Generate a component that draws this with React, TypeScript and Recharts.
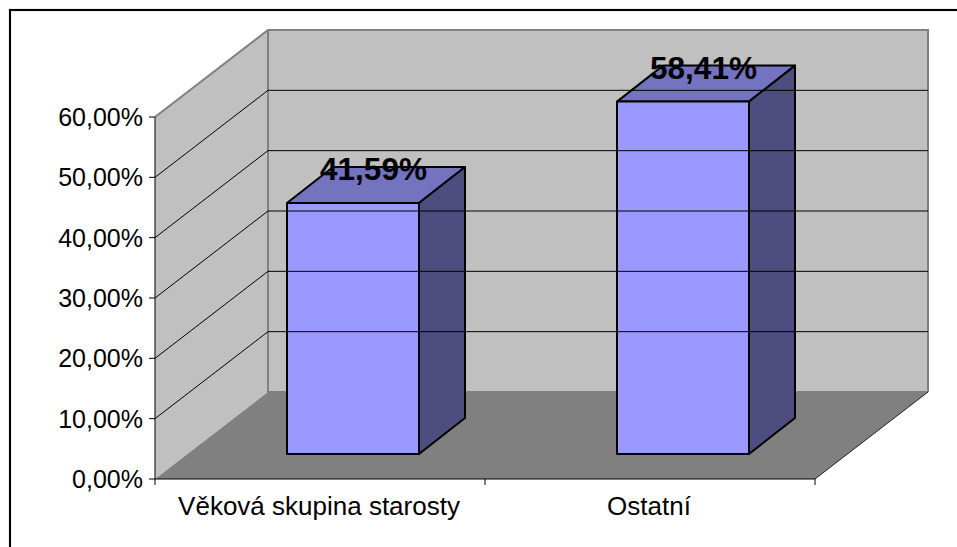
import React from "react";
import {
  BarChart,
  Bar,
  XAxis,
  YAxis,
  LabelList,
  ReferenceArea,
  ReferenceLine,
} from "recharts";

const CATEGORIES = ["Věková skupina starosty", "Ostatní"];
const VALUES = [41.59, 58.41];
const Y_TICKS = [0, 10, 20, 30, 40, 50, 60];

const FONT = "'Liberation Sans', Arial, sans-serif";

// Excel-style fake 3D: how far back the walls go, where a bar sits in that depth, how deep it is
const WALL_DX = 113;
const WALL_DY = -87;
const BAR_DX = 33;
const BAR_DY = -25;
const BAR_DEPTH_X = 46;
const BAR_DEPTH_Y = -36;

const pct = (v: number) => v.toFixed(2).replace(".", ",") + "%";

const data = CATEGORIES.map((name, i) => ({ name, value: VALUES[i] }));

function Walls({ x, y, width, height }: any) {
  const bottom = y + height;
  const right = x + width;
  return (
    <g>
      <polygon
        points={`${x},${y} ${x + WALL_DX},${y + WALL_DY} ${x + WALL_DX},${bottom + WALL_DY} ${x},${bottom}`}
        fill="#c0c0c0"
      />
      <polygon
        points={`${x + WALL_DX},${y + WALL_DY} ${right + WALL_DX},${y + WALL_DY} ${right + WALL_DX},${bottom + WALL_DY} ${x + WALL_DX},${bottom + WALL_DY}`}
        fill="#c0c0c0"
      />
      <polygon
        points={`${x},${bottom} ${x + WALL_DX},${bottom + WALL_DY} ${right + WALL_DX},${bottom + WALL_DY} ${right},${bottom}`}
        fill="#808080"
      />
      <path
        d={`M${x},${y} L${x + WALL_DX},${y + WALL_DY} L${right + WALL_DX},${y + WALL_DY} L${right + WALL_DX},${bottom + WALL_DY}`}
        fill="none"
        stroke="#808080"
        strokeWidth={2}
      />
      <path
        d={`M${x + WALL_DX},${y + WALL_DY} L${x + WALL_DX},${bottom + WALL_DY} L${right + WALL_DX},${bottom + WALL_DY}`}
        fill="none"
        stroke="#808080"
        strokeWidth={2}
      />
      <path d={`M${right},${bottom} L${right + WALL_DX},${bottom + WALL_DY}`} fill="none" stroke="#222" />
    </g>
  );
}

function WallGridLine({ x1, y1, x2, y2 }: any) {
  return (
    <path
      d={`M${x1},${y1} L${x1 + WALL_DX},${y1 + WALL_DY} L${x2 + WALL_DX},${y2 + WALL_DY}`}
      fill="none"
      stroke="#000"
      strokeWidth={1}
    />
  );
}

function Bar3D({ x, y, width, height }: any) {
  const l = x + BAR_DX;
  const t = y + BAR_DY;
  const r = l + width;
  const b = t + height;
  return (
    <g stroke="#000" strokeWidth={2} strokeLinejoin="round">
      <polygon
        points={`${l},${t} ${l + BAR_DEPTH_X},${t + BAR_DEPTH_Y} ${r + BAR_DEPTH_X},${t + BAR_DEPTH_Y} ${r},${t}`}
        fill="#7373bf"
      />
      <polygon
        points={`${r},${t} ${r + BAR_DEPTH_X},${t + BAR_DEPTH_Y} ${r + BAR_DEPTH_X},${b + BAR_DEPTH_Y} ${r},${b}`}
        fill="#4d4d80"
      />
      <rect x={l} y={t} width={width} height={height} fill="#9999ff" />
    </g>
  );
}

function BarLabel({ x, y, width, value }: any) {
  return (
    <text
      x={x + width / 2 + 53.5}
      y={y - 48}
      textAnchor="middle"
      fontFamily={FONT}
      fontSize={31.5}
      fontWeight="bold"
      fill="#000"
    >
      {pct(value)}
    </text>
  );
}

// Category ticks sit on the band edges, not under the label
function CategoryTick({ x, y, payload, index }: any) {
  const band = 330;
  const left = x - band / 2;
  return (
    <g>
      <line x1={left} y1={y - 8} x2={left} y2={y - 2} stroke="#000" />
      {index === CATEGORIES.length - 1 && (
        <line x1={left + band} y1={y - 8} x2={left + band} y2={y - 2} stroke="#000" />
      )}
      <text x={x - 1} y={y + 28} textAnchor="middle" fontFamily={FONT} fontSize={26} fill="#000">
        {payload.value}
      </text>
    </g>
  );
}

export default function App() {
  return (
    <div style={{ position: "absolute", left: 0, top: 0, width: 957, height: 547, background: "#fff", overflow: "hidden" }}>
      {/* the frame is cropped: only its top and left edges are in the picture */}
      <div style={{ position: "absolute", left: 9, top: 9, width: 948, height: 2, background: "#000", boxShadow: "0 0 1px #555" }} />
      <div style={{ position: "absolute", left: 9, top: 9, width: 2, height: 538, background: "#000", boxShadow: "0 0 1px #555" }} />
      <div style={{ position: "absolute", left: 0, top: 0 }}>
        <BarChart
          width={957}
          height={547}
          data={data}
          barCategoryGap="30%"
          margin={{ top: 117, left: 15, right: 142, bottom: 28 }}
        >
          <ReferenceArea y1={0} y2={60} ifOverflow="visible" shape={<Walls />} />
          {Y_TICKS.slice(1, -1).map((t) => (
            <ReferenceLine key={t} y={t} ifOverflow="visible" shape={<WallGridLine />} />
          ))}
          <XAxis
            dataKey="name"
            height={40}
            stroke="#000"
            tickLine={false}
            interval={0}
            tick={<CategoryTick />}
          />
          <YAxis
            width={140}
            domain={[0, 60]}
            ticks={Y_TICKS}
            stroke="#000"
            tickSize={6}
            tickMargin={6}
            tickFormatter={pct}
            tick={{ fontFamily: FONT, fontSize: 25, fill: "#000" }}
          />
          <Bar dataKey="value" isAnimationActive={false} shape={<Bar3D />}>
            <LabelList dataKey="value" content={<BarLabel />} />
          </Bar>
        </BarChart>
      </div>
    </div>
  );
}
